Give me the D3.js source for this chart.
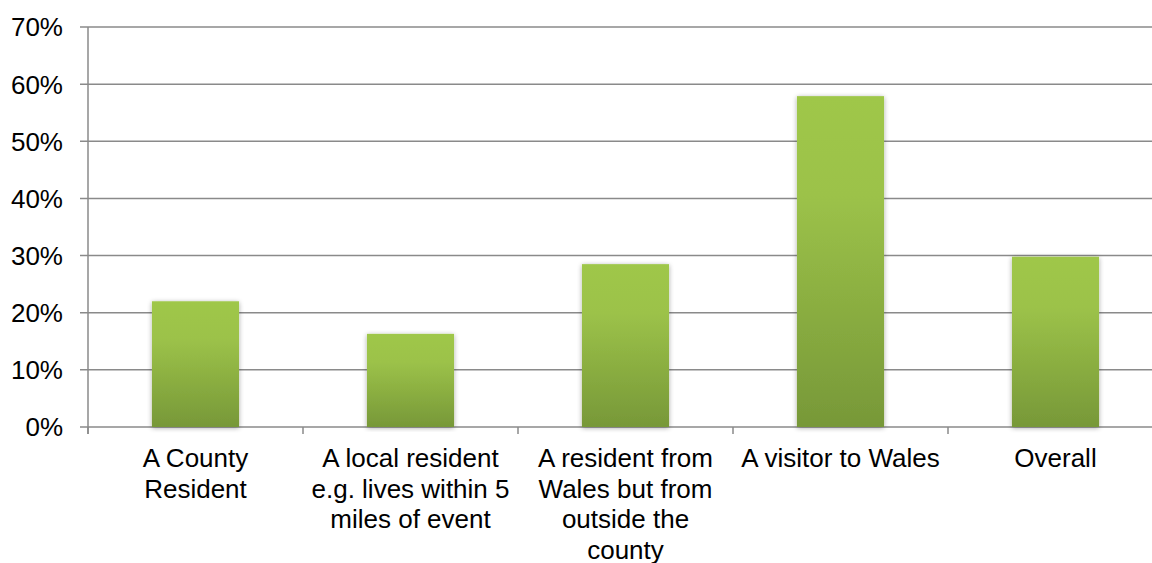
<!DOCTYPE html>
<html>
<head>
<meta charset="utf-8">
<script src="https://cdn.jsdelivr.net/npm/d3@7/dist/d3.min.js"></script>
<style>
  html, body { margin: 0; padding: 0; background: #ffffff; }
  svg { display: block; }
  text { font-family: "Liberation Sans", Arial, Helvetica, sans-serif; }
</style>
</head>
<body>
<svg id="chart" width="1152" height="563"></svg>
<script>
// ---- data ----
const categories = [
  ["A County", "Resident"],
  ["A local resident", "e.g. lives within 5", "miles of event"],
  ["A resident from", "Wales but from", "outside the", "county"],
  ["A visitor to Wales"],
  ["Overall"]
];
const values = [0.22, 0.163, 0.285, 0.579, 0.298];
const yTicks = [0, 0.1, 0.2, 0.3, 0.4, 0.5, 0.6, 0.7];

// ---- layout ----
const svg = d3.select("#chart");
const plotLeft = 88, plotRight = 1163, plotTop = 27, plotBottom = 427;

const x = d3.scaleBand()
  .domain(d3.range(categories.length))
  .range([plotLeft, plotRight])
  .paddingInner(0.595)
  .paddingOuter(0.2975);

const y = d3.scaleLinear().domain([0, 0.7]).range([plotBottom, plotTop]);

// gradient + shadow
const defs = svg.append("defs");
const grad = defs.append("linearGradient")
  .attr("id", "barGrad").attr("x1", 0).attr("y1", 0).attr("x2", 0).attr("y2", 1);
grad.append("stop").attr("offset", "0%").attr("stop-color", "#9fc74a");
grad.append("stop").attr("offset", "30%").attr("stop-color", "#9cc249");
grad.append("stop").attr("offset", "100%").attr("stop-color", "#779838");

const filt = defs.append("filter").attr("id", "shadow")
  .attr("x", "-20%").attr("y", "-5%").attr("width", "140%").attr("height", "110%");
filt.append("feGaussianBlur").attr("in", "SourceAlpha").attr("stdDeviation", 2.5).attr("result", "blur");
filt.append("feOffset").attr("in", "blur").attr("dx", 0).attr("dy", 1).attr("result", "off");
filt.append("feComponentTransfer").attr("in", "off").attr("result", "sh")
  .append("feFuncA").attr("type", "linear").attr("slope", 0.35);
const merge = filt.append("feMerge");
merge.append("feMergeNode").attr("in", "sh");
merge.append("feMergeNode").attr("in", "SourceGraphic");

// gridlines
svg.append("g").selectAll("line").data(yTicks).join("line")
  .attr("x1", plotLeft - 8).attr("x2", plotRight)
  .attr("y1", d => y(d)).attr("y2", d => y(d))
  .attr("stroke", "#8a8a8a").attr("stroke-width", 1.5);

// y axis line
svg.append("line")
  .attr("x1", plotLeft).attr("x2", plotLeft)
  .attr("y1", plotTop).attr("y2", plotBottom + 7)
  .attr("stroke", "#8a8a8a").attr("stroke-width", 1.5);

// x ticks (category boundaries)
const bounds = d3.range(categories.length + 1).map(i => plotLeft + i * x.step());
svg.append("g").selectAll("line").data(bounds).join("line")
  .attr("x1", d => d).attr("x2", d => d)
  .attr("y1", plotBottom).attr("y2", plotBottom + 7)
  .attr("stroke", "#8a8a8a").attr("stroke-width", 1.5);

// y labels
svg.append("g").selectAll("text").data(yTicks).join("text")
  .attr("x", 63).attr("y", d => y(d))
  .attr("dy", "0.36em")
  .attr("text-anchor", "end")
  .attr("font-size", 26)
  .attr("fill", "#000")
  .text(d => d3.format(".0%")(d));

// bars
svg.append("g").selectAll("rect").data(values).join("rect")
  .attr("x", (d, i) => x(i))
  .attr("width", x.bandwidth())
  .attr("y", d => y(d))
  .attr("height", d => y(0) - y(d))
  .attr("fill", "url(#barGrad)")
  .attr("filter", "url(#shadow)");

// category labels
const cat = svg.append("g").selectAll("text").data(categories).join("text")
  .attr("text-anchor", "middle")
  .attr("font-size", 26)
  .attr("fill", "#000");
cat.each(function(lines, i) {
  const t = d3.select(this);
  lines.forEach((ln, j) => {
    t.append("tspan")
      .attr("x", x(i) + x.bandwidth() / 2)
      .attr("y", 467 + j * 30.5)
      .text(ln);
  });
});
</script>
</body>
</html>
